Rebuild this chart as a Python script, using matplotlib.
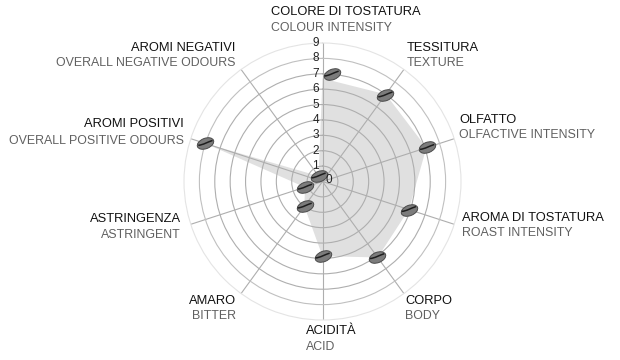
import numpy as np
import matplotlib
matplotlib.use("Agg")
import matplotlib.pyplot as plt
from matplotlib.path import Path
from matplotlib.transforms import Affine2D

categorie = ["COLORE DI TOSTATURA", "TESSITURA", "OLFATTO", "AROMA DI TOSTATURA", "CORPO",
             "ACIDITÀ", "AMARO", "ASTRINGENZA", "AROMI POSITIVI", "AROMI NEGATIVI"]
categorie_en = ["COLOUR INTENSITY", "TEXTURE", "OLFACTIVE INTENSITY", "ROAST INTENSITY", "BODY",
                "ACID", "BITTER", "ASTRINGENT", "OVERALL POSITIVE ODOURS", "OVERALL NEGATIVE ODOURS"]
valori_area = [6.7, 7.0, 7.1, 5.9, 6.1, 4.85, 2.0, 1.2, 8.0, 0.44]
valori_chicchi = [7.0, 6.95, 7.15, 5.9, 6.04, 4.85, 1.98, 1.2, 8.0, 0.44]
tick_raggio = [1, 2, 3, 4, 5, 6, 7, 8, 9]

# posizione delle etichette in pixel (x, y centro riga 1, y centro riga 2, allineamento)
pos_label = [(271, 12, 28, "left"), (407, 48, 63, "left"), (459, 120, 135, "left"),
             (462, 218, 233, "left"), (405, 301, 316, "left"), (306, 331, 347, "left"),
             (236, 301, 316, "right"), (181, 219, 235, "right"), (184, 124, 141, "right"),
             (235, 48, 63, "right")]

W, H = 620, 360
cx, cy, R = 322.5, 181.5, 138.5

plt.rcParams["font.family"] = ["Liberation Sans", "DejaVu Sans"]
fig = plt.figure(figsize=(W / 100, H / 100), dpi=100)
ax = fig.add_axes([(cx - R) / W, 1 - (cy + R) / H, 2 * R / W, 2 * R / H], projection="polar")
ax.set_theta_zero_location("N")
ax.set_theta_direction(-1)
ax.set_ylim(0, 9)

angoli = np.deg2rad(np.arange(len(categorie)) * 36)
ax.set_xticks(angoli)
ax.set_xticklabels([])
ax.set_yticks(tick_raggio)
ax.set_yticklabels([])
ax.tick_params(length=0)
ax.grid(True, color="#aeaeae", linewidth=0.8)
ax.set_axisbelow(True)
ax.get_ygridlines()[-1].set_visible(False)
ax.get_ygridlines()[-2].set_color("#c0c0c0")
ax.spines["polar"].set_color("#e4e4e4")
ax.spines["polar"].set_linewidth(0.8)

# area grigia
chiuso_a = np.append(angoli, angoli[0])
chiuso_v = np.append(valori_area, valori_area[0])
ax.fill(chiuso_a, chiuso_v, color="#e0e0e0", linewidth=0, zorder=0.2)

# numeri sull'asse verticale
for t in tick_raggio:
    ax.annotate(str(t), (0, t), xytext=(-2.5, 0), textcoords="offset points", ha="right",
                va="center", fontsize=8.5, color="#222222", zorder=3)
ax.annotate("0", (0, 0), xytext=(2.5, 1), textcoords="offset points", ha="left",
            va="center", fontsize=8.5, color="#222222", zorder=7)

# chicchi di caffe come marker
ruota = Affine2D().scale(1, 0.6).rotate_deg(22)
chicco = Path.unit_circle().transformed(ruota)
solco = Path([(-1, -0.26), (-0.3, -0.2), (0.3, 0.2), (1, 0.42)],
             [Path.MOVETO, Path.CURVE4, Path.CURVE4, Path.CURVE4])
# il primo chicco nell'originale sta a destra del suo asse
angoli_chicchi = angoli.copy()
angoli_chicchi[0] = np.deg2rad(4.8)
ax.scatter(angoli_chicchi, valori_chicchi, s=150, marker=chicco, facecolor="#7c7c7c",
           edgecolor="#4a4a4a", linewidth=0.7, zorder=4, clip_on=False)
ax.scatter(angoli_chicchi, valori_chicchi, s=105, marker=solco, facecolor="none",
           edgecolor="#1e1e1e", linewidth=1.1, zorder=6, clip_on=False)

# etichette
for nome, nome_en, (x, y1, y2, al) in zip(categorie, categorie_en, pos_label):
    fig.text(x / W, 1 - y1 / H, nome, ha=al, va="center", fontsize=9.3, color="#111111")
    fig.text(x / W, 1 - y2 / H, nome_en, ha=al, va="center", fontsize=8.95, color="#606060")

fig.savefig("out.png", dpi=100)
